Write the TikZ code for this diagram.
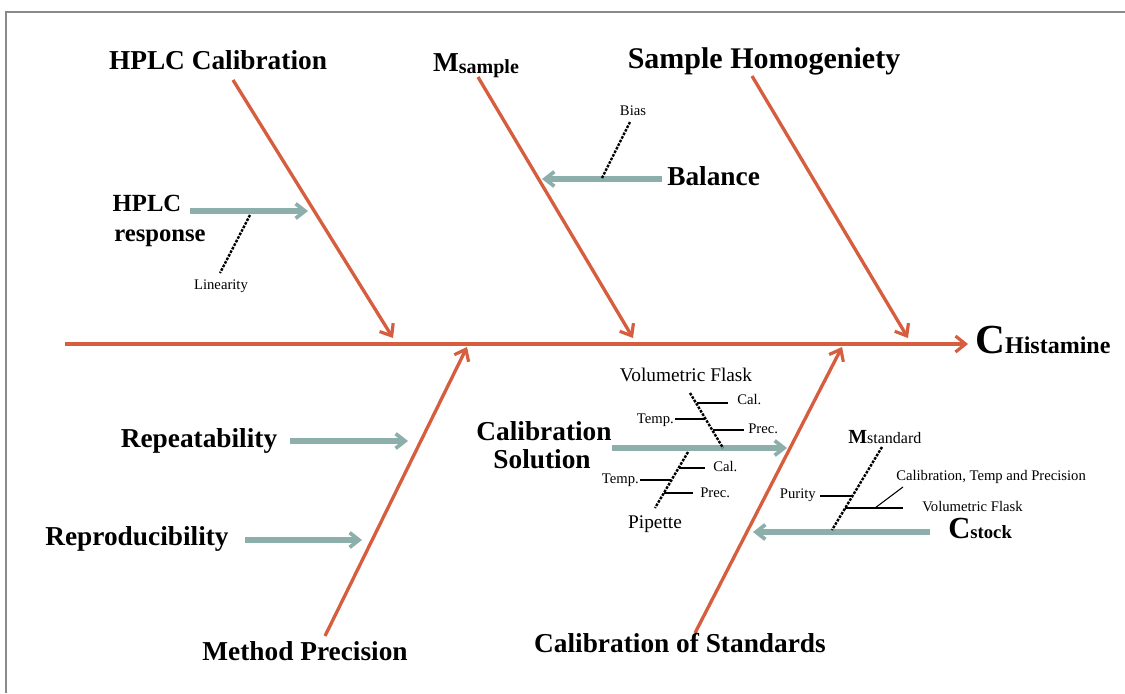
\documentclass[tikz,border=0pt]{standalone}
\usepackage{fontspec}
\setmainfont{Liberation Serif}
\usetikzlibrary{arrows.meta}
\definecolor{bone}{RGB}{214,94,62}
\definecolor{tealc}{RGB}{140,175,172}
\definecolor{framec}{RGB}{138,138,138}
\begin{document}
\begin{tikzpicture}[x=0.75pt,y=-0.75pt,
  bonearrow/.style={draw=bone,line width=2.5pt,-{Straight Barb[length=7.5pt,width=12pt,line width=2.4pt]}},
  subarrow/.style={draw=tealc,line width=4pt,-{Straight Barb[length=7pt,width=11pt,line width=2.8pt]}},
  dashline/.style={draw=black,line width=1.8pt,dash pattern=on 2pt off 1pt},
  tick/.style={draw=black,line width=0.8pt},
  big/.style={font=\bfseries\fontsize{20.5}{24}\selectfont,inner sep=0pt},
  mid/.style={font=\fontsize{14.5}{17}\selectfont,inner sep=0pt},
  small/.style={font=\fontsize{11}{13}\selectfont,inner sep=0pt}]
\useasboundingbox (0,0) rectangle (1125,693);
% frame
\coordinate (fr1) at (1125,12);
\coordinate (fr2) at (6,12);
\coordinate (fr3) at (6,693);
\draw[framec,line width=1.5pt] (fr1) -- (fr2) -- (fr3);

% spine
\coordinate (sp0) at (65,344);
\coordinate (spE) at (968,344);
\draw[bonearrow] (sp0) -- (spE);
\node[anchor=base west,inner sep=0pt] (hist) at (975,353)
  {\bfseries\fontsize{31}{34}\selectfont C\fontsize{18}{20}\selectfont Histamine};

% main bones
\coordinate (b1s) at (233,80);  \coordinate (b1e) at (393,338);
\coordinate (b2s) at (478,77);  \coordinate (b2e) at (633,338);
\coordinate (b3s) at (752,76);  \coordinate (b3e) at (908,338);
\coordinate (b4s) at (325,636); \coordinate (b4e) at (467,347);
\coordinate (b5s) at (695,633); \coordinate (b5e) at (842,347);
\draw[bonearrow] (b1s) -- (b1e);
\draw[bonearrow] (b2s) -- (b2e);
\draw[bonearrow] (b3s) -- (b3e);
\draw[bonearrow] (b4s) -- (b4e);
\draw[bonearrow] (b5s) -- (b5e);

\node[big,anchor=base] (hplccal) at (218,69) {HPLC Calibration};
\node[big,anchor=base] (msample) at (476,71) {M\raisebox{-1.5pt}{\fontsize{15}{16}\selectfont sample}};
\node[big,anchor=base,font=\bfseries\fontsize{22.5}{26}\selectfont] (homog) at (764,68) {Sample Homogeniety};
\node[big,anchor=base] (mp) at (305,660) {Method Precision};
\node[big,anchor=base] (cos) at (680,652) {Calibration of Standards};

% HPLC response
\node[big,anchor=base,font=\bfseries\fontsize{18.5}{22}\selectfont] (hr1) at (147,211) {HPLC};
\node[big,anchor=base,font=\bfseries\fontsize{18.5}{22}\selectfont] (hr2) at (160,241) {response};
\coordinate (hrS) at (190,211); \coordinate (hrE) at (308,211);
\draw[subarrow] (hrS) -- (hrE);
\coordinate (linA) at (250,215); \coordinate (linB) at (220,273);
\draw[dashline] (linA) -- (linB);
\node[small,anchor=base] (lin) at (221,289) {Linearity};

% Balance
\node[big,anchor=base west] (bal) at (667,185) {Balance};
\coordinate (balS) at (662,179); \coordinate (balE) at (542,179);
\draw[subarrow] (balS) -- (balE);
\coordinate (biasA) at (602,178); \coordinate (biasB) at (630,122);
\draw[dashline] (biasA) -- (biasB);
\node[small,anchor=base] (bias) at (633,115) {Bias};

% Repeatability / Reproducibility
\node[big,anchor=base] (rep) at (199,447) {Repeatability};
\coordinate (repS) at (290,441); \coordinate (repE) at (408,441);
\draw[subarrow] (repS) -- (repE);
\node[big,anchor=base] (repro) at (137,545) {Reproducibility};
\coordinate (reproS) at (245,540); \coordinate (reproE) at (362,540);
\draw[subarrow] (reproS) -- (reproE);

% Calibration Solution
\node[big,anchor=base] (cs1) at (544,440) {Calibration};
\node[big,anchor=base] (cs2) at (542,468) {Solution};
\coordinate (csS) at (612,448); \coordinate (csE) at (787,448);
\draw[subarrow] (csS) -- (csE);

\node[mid,anchor=base] (vf1) at (686,381) {Volumetric Flask};
\coordinate (vfA) at (690,393); \coordinate (vfB) at (723,448);
\draw[dashline] (vfA) -- (vfB);
\coordinate (vc1) at (697,403); \coordinate (vc2) at (728,403);
\coordinate (vt1) at (675,419); \coordinate (vt2) at (705,419);
\coordinate (vp1) at (713,430); \coordinate (vp2) at (744,430);
\draw[tick] (vc1) -- (vc2);
\draw[tick] (vt1) -- (vt2);
\draw[tick] (vp1) -- (vp2);
\node[small,anchor=base west] (vcal) at (737,404) {Cal.};
\node[small,anchor=base east] (vtemp) at (674,423) {Temp.};
\node[small,anchor=base west] (vprec) at (748,433) {Prec.};

\node[mid,anchor=base] (pip) at (655,528) {Pipette};
\coordinate (pA) at (688,452); \coordinate (pB) at (655,508);
\draw[dashline] (pA) -- (pB);
\coordinate (pc1) at (679,468); \coordinate (pc2) at (705,468);
\coordinate (pt1) at (640,480); \coordinate (pt2) at (671,480);
\coordinate (pp1) at (664,493); \coordinate (pp2) at (693,493);
\draw[tick] (pc1) -- (pc2);
\draw[tick] (pt1) -- (pt2);
\draw[tick] (pp1) -- (pp2);
\node[small,anchor=base west] (pcal) at (713,471) {Cal.};
\node[small,anchor=base east] (ptemp) at (639,483) {Temp.};
\node[small,anchor=base west] (pprec) at (700,497) {Prec.};

% C stock
\node[anchor=base west,inner sep=0pt] (cstock) at (948,538)
  {\bfseries\fontsize{23}{26}\selectfont C\fontsize{14}{16}\selectfont stock};
\coordinate (ckS) at (930,532); \coordinate (ckE) at (753,532);
\draw[subarrow] (ckS) -- (ckE);
\node[anchor=base west,inner sep=0pt] (mstd) at (848,443)
  {{\bfseries\fontsize{15}{17}\selectfont M}{\fontsize{12}{14}\selectfont standard}};
\coordinate (msA) at (882,447); \coordinate (msB) at (832,530);
\draw[dashline] (msA) -- (msB);
\coordinate (pu1) at (820,496); \coordinate (pu2) at (852,496);
\coordinate (vf21) at (845,508); \coordinate (vf22) at (903,508);
\coordinate (ct1) at (875,508); \coordinate (ct2) at (903,487);
\draw[tick] (pu1) -- (pu2);
\draw[tick] (vf21) -- (vf22);
\draw[tick] (ct1) -- (ct2);
\node[small,anchor=base east] (purity) at (816,498) {Purity};
\node[small,anchor=base west] (vf2) at (922,511) {Volumetric Flask};
\node[small,anchor=base west] (ctp) at (896,480) {Calibration, Temp and Precision};
\end{tikzpicture}
\end{document}
